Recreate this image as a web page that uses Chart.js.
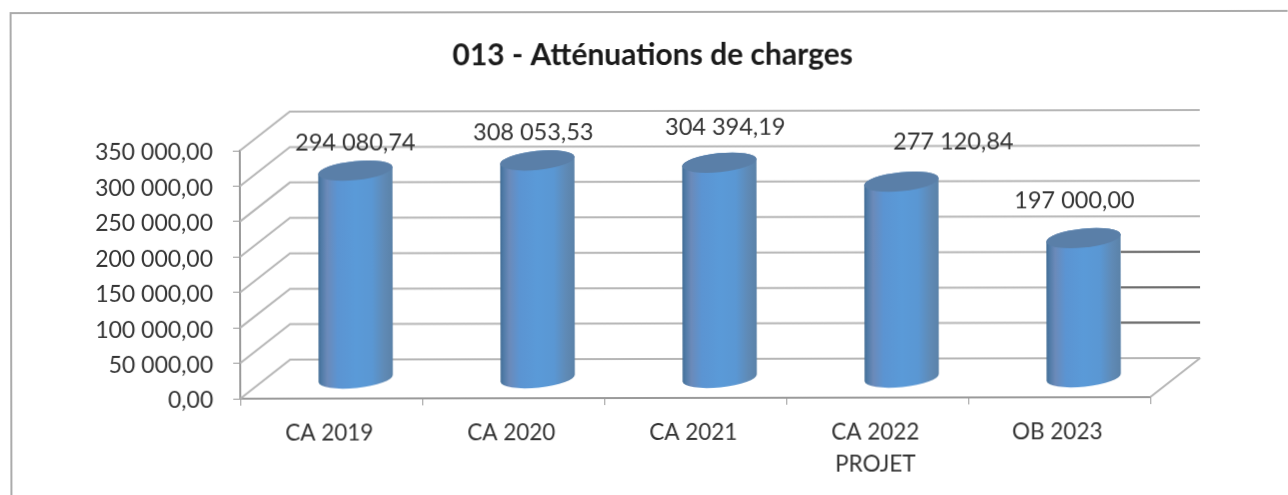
<!DOCTYPE html>
<html>
<head>
<meta charset="utf-8">
<title>013 - Atténuations de charges</title>
<style>
  html, body { margin: 0; padding: 0; background: #fff; overflow: hidden; }
  /* scanned original: a little soft and a hair off level */
  canvas { display: block; filter: blur(0.4px); transform: rotate(-0.1deg); }
</style>
</head>
<body>
<canvas id="mycanvas" width="1288" height="495"></canvas>

<script src="https://cdn.jsdelivr.net/npm/chart.js@4/dist/chart.umd.min.js"></script>
<script>
var categories = ["CA 2019", "CA 2020", "CA 2021", ["CA 2022", "PROJET"], "OB 2023"];
var values = [294080.74, 308053.53, 304394.19, 277120.84, 197000.00];
var chartTitle = "013 - Atténuations de charges";
var yMax = 350000;
var yStep = 50000;

// hand placed offsets of the value labels, relative to the top of each cylinder
var labelDx = [0, -4, 6, 52, -9];
var labelDy = [-28, -28, -35, -40, -37];

// back wall ticks where the scan left darker lines, right of the last cylinder
var darkTicks = [50000, 100000, 150000];

var depthX = 50, depthY = 39;
var fontName = "Lato, 'Liberation Sans', sans-serif";

function frNumber(v) {
  var parts = Number(v).toFixed(2).split(".");
  return parts[0].replace(/\B(?=(\d{3})+(?!\d))/g, " ") + "," + parts[1];
}

// bars become tilted cylinders, sitting half way into the depth of the floor
Chart.BarElement.prototype.draw = function (ctx) {
  var p = this.getProps(["x", "y", "base", "width"]);
  var cx = p.x + depthX / 2 - 0.5, top = p.y - depthY / 2, base = p.base - depthY / 2;
  var rx = p.width / 2, ry = 9.5, tilt = -0.1;

  var grad = ctx.createLinearGradient(cx - rx, 0, cx + rx, 0);
  grad.addColorStop(0, "#3f6a92");
  grad.addColorStop(0.04, "#4f7aa6");
  grad.addColorStop(0.12, "#6b8ab9");
  grad.addColorStop(0.26, "#5b94d2");
  grad.addColorStop(0.5, "#5a9ad8");
  grad.addColorStop(0.72, "#5a97d3");
  grad.addColorStop(0.88, "#5f8ab6");
  grad.addColorStop(1, "#5b82a8");

  ctx.save();
  ctx.beginPath();
  ctx.ellipse(cx, base, rx, ry, tilt, 0, Math.PI);
  ctx.ellipse(cx, top, rx, ry, tilt, Math.PI, 2 * Math.PI);
  ctx.closePath();
  ctx.fillStyle = grad;
  ctx.fill();

  ctx.beginPath();
  ctx.ellipse(cx, top, rx, ry, tilt, 0, 2 * Math.PI);
  ctx.fillStyle = "#5a7fa8";
  ctx.fill();
  ctx.restore();
};

var depthGrid = {
  id: "depthGrid",
  beforeDraw: function (chart) {
    var ctx = chart.ctx;
    ctx.save();
    ctx.strokeStyle = "#ababab";
    ctx.lineWidth = 2;
    ctx.beginPath();
    ctx.moveTo(11, 497);
    ctx.lineTo(11, 12);
    ctx.lineTo(1290, 12);
    ctx.stroke();
    ctx.restore();
  },
  beforeDatasetsDraw: function (chart) {
    var ctx = chart.ctx, area = chart.chartArea, y = chart.scales.y;
    ctx.save();
    ctx.lineWidth = 2;
    ctx.strokeStyle = "#b6b6b6";
    y.ticks.forEach(function (t) {
      var py = y.getPixelForValue(t.value);
      ctx.beginPath();
      ctx.moveTo(area.left, py);
      ctx.lineTo(area.left + depthX, py - depthY);
      ctx.lineTo(area.right + depthX, py - depthY);
      ctx.stroke();
    });
    ctx.beginPath();
    ctx.moveTo(area.right, area.bottom);
    ctx.lineTo(area.right + depthX, area.bottom - depthY);
    ctx.stroke();

    ctx.strokeStyle = "#6a6a6a";
    darkTicks.forEach(function (v) {
      var py = y.getPixelForValue(v) - depthY;
      ctx.beginPath();
      ctx.moveTo(1121, py);
      ctx.lineTo(area.right + depthX, py);
      ctx.stroke();
    });
    ctx.restore();
  }
};

var valueLabels = {
  id: "valueLabels",
  afterDatasetsDraw: function (chart) {
    var ctx = chart.ctx, meta = chart.getDatasetMeta(0);
    ctx.save();
    ctx.font = "23.5px " + fontName;
    ctx.fillStyle = "#333333";
    ctx.textAlign = "center";
    ctx.textBaseline = "middle";
    meta.data.forEach(function (bar, i) {
      ctx.fillText(frNumber(values[i]),
        bar.x + depthX / 2 - 0.5 + labelDx[i],
        bar.y - depthY / 2 + labelDy[i]);
    });
    ctx.restore();
  }
};

var LineGraph = new Chart(document.getElementById("mycanvas"), {
  type: "bar",
  data: {
    labels: categories,
    datasets: [{
      label: chartTitle,
      data: values,
      backgroundColor: "#5a9ad8",
      categoryPercentage: 1,
      barPercentage: 0.41
    }]
  },
  plugins: [depthGrid, valueLabels],
  options: {
    responsive: false,
    animation: false,
    layout: { padding: { left: 18, right: 0, top: 0, bottom: 0 } },
    plugins: {
      legend: { display: false },
      tooltip: { enabled: false },
      title: {
        display: true,
        text: chartTitle,
        color: "#1a1a1a",
        font: { family: fontName, size: 30, weight: "bold", lineHeight: 1.2 },
        padding: { top: 37, bottom: 77 }
      }
    },
    scales: {
      x: {
        afterFit: function (s) { s.height = 97; },
        border: { display: true, color: "#9a9a9a", width: 2 },
        grid: { display: true, offset: true, drawOnChartArea: false, drawTicks: true, tickLength: 7, color: "#9a9a9a" },
        ticks: {
          color: "#333333",
          padding: 11.5,
          labelOffset: -2,
          maxRotation: 0,
          autoSkip: false,
          font: { family: fontName, size: 22.5, lineHeight: 1.42 }
        }
      },
      y: {
        min: 0,
        max: yMax,
        afterFit: function (s) { s.width = 222; },
        border: { display: true, color: "#9a9a9a", width: 2 },
        grid: { display: true, drawOnChartArea: false, drawTicks: true, tickLength: 7, color: "#9a9a9a" },
        ticks: {
          stepSize: yStep,
          color: "#333333",
          padding: 20,
          labelOffset: 2,
          font: { family: fontName, size: 23 },
          callback: function (v) { return frNumber(v); }
        }
      },
      // empty axis, only keeps the room right of the floor for the depth lines
      spacer: {
        position: "right",
        afterFit: function (s) { s.width = 138; },
        border: { display: false },
        grid: { display: false },
        ticks: { display: false }
      }
    }
  }
});
</script>
</body>
</html>
